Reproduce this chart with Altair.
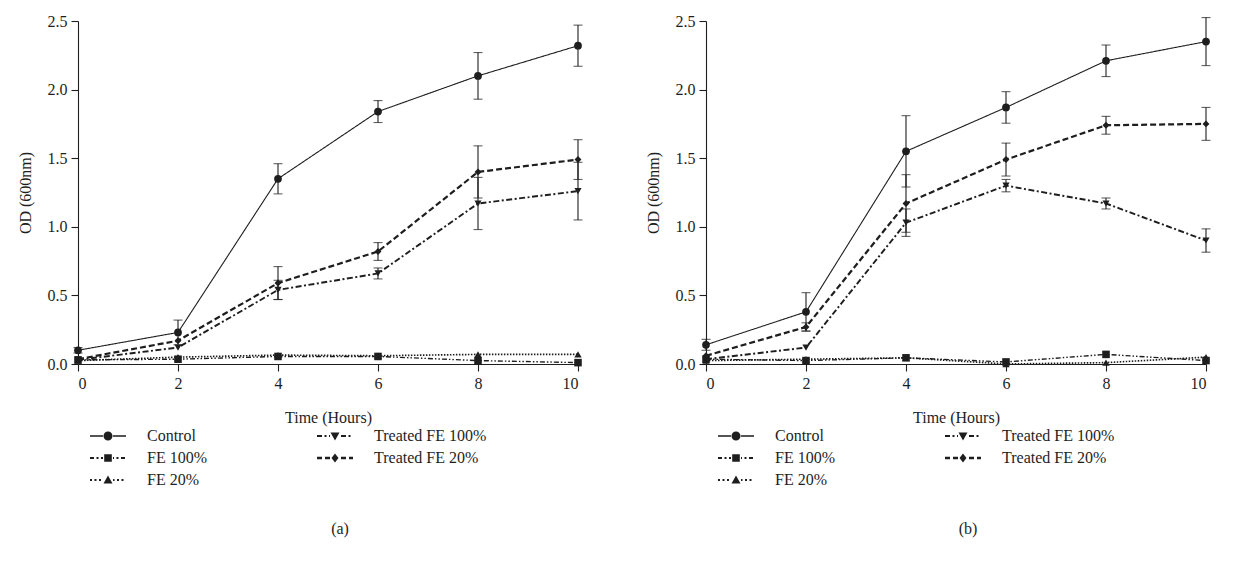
import altair as alt
import pandas as pd

# ---------------- data ----------------
times = [0, 2, 4, 6, 8, 10]
series_names = ["Control", "FE 100%", "FE 20%", "Treated FE 100%", "Treated FE 20%"]

# panel (a)
a_control = [0.10, 0.23, 1.35, 1.84, 2.10, 2.32]
a_control_err = [0.02, 0.09, 0.11, 0.08, 0.17, 0.15]
a_fe100 = [0.03, 0.035, 0.055, 0.055, 0.025, 0.01]
a_fe20 = [0.025, 0.05, 0.065, 0.06, 0.07, 0.07]
a_tfe100 = [0.03, 0.12, 0.54, 0.66, 1.17, 1.26]
a_tfe100_err = [0.0, 0.0, 0.07, 0.04, 0.19, 0.21]
a_tfe20 = [0.035, 0.17, 0.59, 0.82, 1.40, 1.49]
a_tfe20_err = [0.0, 0.0, 0.12, 0.065, 0.19, 0.145]

# panel (b)
b_control = [0.14, 0.38, 1.55, 1.87, 2.21, 2.35]
b_control_err = [0.04, 0.14, 0.26, 0.115, 0.115, 0.175]
b_fe100 = [0.035, 0.025, 0.045, 0.015, 0.07, 0.025]
b_fe20 = [0.025, 0.035, 0.045, 0.0, 0.01, 0.05]
b_tfe100 = [0.035, 0.12, 1.03, 1.30, 1.17, 0.90]
b_tfe100_err = [0.0, 0.0, 0.10, 0.045, 0.04, 0.085]
b_tfe20 = [0.06, 0.27, 1.17, 1.49, 1.74, 1.75]
b_tfe20_err = [0.0, 0.03, 0.21, 0.12, 0.065, 0.12]

zero = [0.0] * 6

# ---------------- styling ----------------
INK = "#1e1e1e"
FONT = "Liberation Serif"
FS = 16

dash_range = [[1, 0], [5, 2, 1.5, 2, 1.5, 2], [1.5, 1.5], [6, 2.5, 2, 2.5], [6, 3]]
width_range = [1.1, 2.2, 2.2, 2.2, 2.4]
shape_range = ["circle", "square", "triangle-up", "triangle-down", "diamond"]
size_range = [60, 48, 48, 48, 42]

SYM = 36.0  # legend symbol length in px


def marker_path(kind):
    u = 20.0 / (SYM / 2)
    if kind == "circle":
        r = 0.225 * u
        return f"M{-r:.3f},0A{r:.3f},{r:.3f},0,1,1,{r:.3f},0A{r:.3f},{r:.3f},0,1,1,{-r:.3f},0Z"
    if kind == "square":
        s = 0.19 * u
        return f"M{-s:.3f},{-s:.3f}L{s:.3f},{-s:.3f}L{s:.3f},{s:.3f}L{-s:.3f},{s:.3f}Z"
    if kind == "triangle-up":
        return f"M0,{-0.23*u:.3f}L{0.225*u:.3f},{0.17*u:.3f}L{-0.225*u:.3f},{0.17*u:.3f}Z"
    if kind == "triangle-down":
        return f"M0,{0.23*u:.3f}L{-0.225*u:.3f},{-0.17*u:.3f}L{0.225*u:.3f},{-0.17*u:.3f}Z"
    return f"M0,{-0.225*u:.3f}L{0.175*u:.3f},0L0,{0.225*u:.3f}L{-0.175*u:.3f},0Z"


def legend_path(pattern, kind, thick):
    W = SYM
    half = SYM / 2
    gap = 5.0
    h = thick / 2 / half
    parts = []
    pos, i = 0.0, 0
    while pos < W:
        on = pattern[i % len(pattern)]
        off = pattern[(i + 1) % len(pattern)]
        a, b = pos, min(pos + on, W)
        for s, e in [(a, min(b, half - gap)), (max(a, half + gap), b)]:
            if e - s > 0.05:
                x0 = (s - half) / half
                x1 = (e - half) / half
                parts.append(
                    f"M{x0:.3f},{-h:.3f}L{x1:.3f},{-h:.3f}L{x1:.3f},{h:.3f}L{x0:.3f},{h:.3f}Z"
                )
        pos += on + off
        i += 2
    parts.append(marker_path(kind))
    return "".join(parts)


legend_patterns = {
    "Control": ([40, 0], "circle", 1.3),
    "FE 100%": ([4, 2.5, 2, 2.5, 2, 2.5], "square", 2.2),
    "FE 20%": ([2, 2.5], "triangle-up", 2.2),
    "Treated FE 100%": ([5, 2.5, 2, 2.5], "triangle-down", 2.2),
    "Treated FE 20%": ([5, 3], "diamond", 2.4),
}
legend_paths = [legend_path(*legend_patterns[n]) for n in series_names]


def build_df(vals, errs):
    rows = []
    for name, v, e in zip(series_names, vals, errs):
        for t, y, err in zip(times, v, e):
            rows.append({"series": name, "t": t, "y": y, "err": err,
                         "lo": y - err, "hi": y + err})
    return pd.DataFrame(rows)


df_a = build_df([a_control, a_fe100, a_fe20, a_tfe100, a_tfe20],
                [a_control_err, zero, zero, a_tfe100_err, a_tfe20_err])
df_b = build_df([b_control, b_fe100, b_fe20, b_tfe100, b_tfe20],
                [b_control_err, zero, zero, b_tfe100_err, b_tfe20_err])

W, H = 500, 343


def panel(df, label):
    xenc = alt.X("t:Q", scale=alt.Scale(domain=[0, 10], nice=False),
                 axis=alt.Axis(values=times, title="Time (Hours)", grid=False,
                               tickSize=7, labelPadding=4, titlePadding=18))
    yaxis = alt.Axis(values=[0, 0.5, 1.0, 1.5, 2.0, 2.5], format=".1f", grid=False,
                     tickSize=7, labelPadding=4, titlePadding=14, title="OD (600nm)")
    yscale = alt.Scale(domain=[0, 2.5], nice=False)
    base = alt.Chart(df)

    err = base.transform_filter("datum.err > 0").mark_errorbar(
        ticks=True, size=9, thickness=1.1, color=INK
    ).encode(
        x=xenc,
        y=alt.Y("lo:Q", scale=yscale, axis=yaxis, title="OD (600nm)"),
        y2="hi:Q",
    )

    lines = base.mark_line(color=INK).encode(
        x=xenc,
        y=alt.Y("y:Q", scale=yscale, axis=yaxis, title="OD (600nm)"),
        detail="series:N",
        strokeDash=alt.StrokeDash("series:N", scale=alt.Scale(domain=series_names, range=dash_range), legend=None),
        strokeWidth=alt.StrokeWidth("series:N", scale=alt.Scale(domain=series_names, range=width_range), legend=None),
    )

    pts = base.mark_point(filled=True, color=INK, opacity=1).encode(
        x=xenc,
        y=alt.Y("y:Q", scale=yscale, axis=yaxis, title="OD (600nm)"),
        shape=alt.Shape("series:N", scale=alt.Scale(domain=series_names, range=shape_range), legend=None),
        size=alt.Size("series:N", scale=alt.Scale(domain=series_names, range=size_range), legend=None),
    )

    leg = base.transform_filter("datum.t < 0").mark_point(filled=True, color=INK, opacity=1).encode(
        x=xenc,
        y=alt.Y("y:Q", scale=yscale, axis=yaxis, title="OD (600nm)"),
        shape=alt.Shape(
            "series:N",
            scale=alt.Scale(domain=series_names, range=legend_paths),
            legend=alt.Legend(
                title=None, orient="none", legendX=12, legendY=405, columns=2,
                symbolSize=SYM * SYM, symbolStrokeWidth=0, symbolFillColor=INK,
                clipHeight=20, rowPadding=2, columnPadding=110, labelOffset=21,
                labelFont=FONT, labelFontSize=FS, labelColor=INK, labelLimit=300,
            ),
        ),
    )

    return alt.layer(err, lines, pts, leg).resolve_scale(shape="independent").properties(
        width=W, height=H,
        title=alt.TitleParams(text=label, orient="bottom", frame="group", anchor="middle",
                              font=FONT, fontSize=FS, fontWeight="normal", color=INK,
                              offset=31, dx=12),
    )


chart = alt.hconcat(panel(df_a, "(a)"), panel(df_b, "(b)"), spacing=62).resolve_scale(
    shape="independent", strokeDash="independent", strokeWidth="independent", size="independent"
).resolve_legend(shape="independent").properties(
    padding={"left": 9, "top": 5, "right": 5, "bottom": 5}
).configure_view(stroke=None).configure_axis(
    domainColor=INK, tickColor=INK, labelColor=INK, titleColor=INK,
    labelFont=FONT, titleFont=FONT, labelFontSize=FS, titleFontSize=FS,
    titleFontWeight="normal", domainWidth=1.1, tickWidth=1.1,
).configure_title(font=FONT)

chart.save("out.html", embed_options={"renderer": "svg", "actions": False})
